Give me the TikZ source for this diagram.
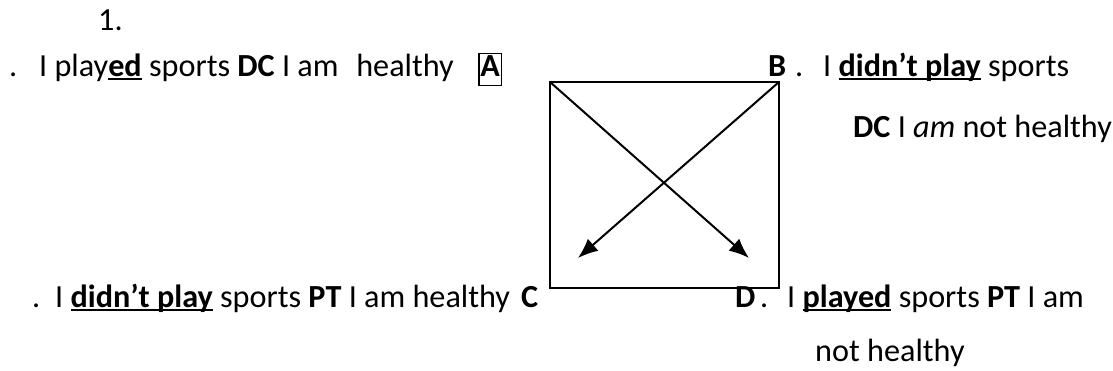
\documentclass[tikz,border=0pt]{standalone}
\usepackage{fontspec}
\setmainfont{Carlito}
\usetikzlibrary{arrows.meta}
\newcommand{\ulword}[1]{\setbox0\hbox{\textbf{#1}}\rlap{\rule[-0.1em]{\wd0}{0.065em}}\box0\relax}

\begin{document}
\begin{tikzpicture}[scale=1.000000,x=1pt,y=1pt,
  txt/.style={anchor=base west,inner sep=0pt,font=\fontsize{32.2}{38}\selectfont},
  boxlabel/.style={txt,draw,line width=1.8pt,inner sep=1.5pt,text depth=7pt,text height=22pt},
  boxline/.style={line width=2pt},
  cross/.style={line width=2pt,-{Latex[length=20pt,width=16pt]}}]
\useasboundingbox (0.000000, 0.000000) rectangle (1113.000000, 371.000000);
% Drawing the box
\coordinate (tl) at (550.000000, 289.000000);
\coordinate (tr) at (779.000000, 289.000000);
\coordinate (br) at (779.000000, 83.000000);
\coordinate (tipC) at (578.000000, 113.000000);
\coordinate (tipD) at (749.000000, 113.000000);
\draw[boxline] (tl) rectangle (br);
% Drawing the crossing arrows
\draw[cross] (tl) -- (tipD);
\draw[cross] (tr) -- (tipC);
% Done with box; drawing top labels
\node[txt] (num) at (98.000000, 340.000000) {1.};
\node[txt] (dotA) at (9.000000, 294.000000) {.};
\node[txt] (textA) at (39.000000, 294.000000) {I play\ulword{ed} sports \textbf{DC} I am\hspace{0.55em}healthy};
\node[boxlabel] (labA) at (478.000000, 294.000000) {\textbf{A}};
\node[txt] (labB) at (768.000000, 294.000000) {\textbf{B}};
\node[txt] (dotB) at (795.000000, 294.000000) {.};
\node[txt] (textB) at (823.000000, 294.000000) {I \ulword{didn’t play} sports};
\node[txt] (textBb) at (853.000000, 233.000000) {\textbf{DC} I \textit{am} not healthy};
% Done with top labels; drawing bottom labels
\node[txt] (dotC) at (32.000000, 63.000000) {.};
\node[txt] (textC) at (55.000000, 63.000000) {I \ulword{didn’t play} sports \textbf{PT} I am healthy};
\node[txt] (labC) at (521.000000, 63.000000) {\textbf{C}};
\node[txt] (labD) at (735.000000, 63.000000) {\textbf{D}};
\node[txt] (dotD) at (760.000000, 63.000000) {.};
\node[txt] (textD) at (787.000000, 63.000000) {I \ulword{played} sports \textbf{PT} I am};
\node[txt] (textDb) at (815.000000, 9.000000) {not healthy};
% Done with labels
\end{tikzpicture}
\end{document}
